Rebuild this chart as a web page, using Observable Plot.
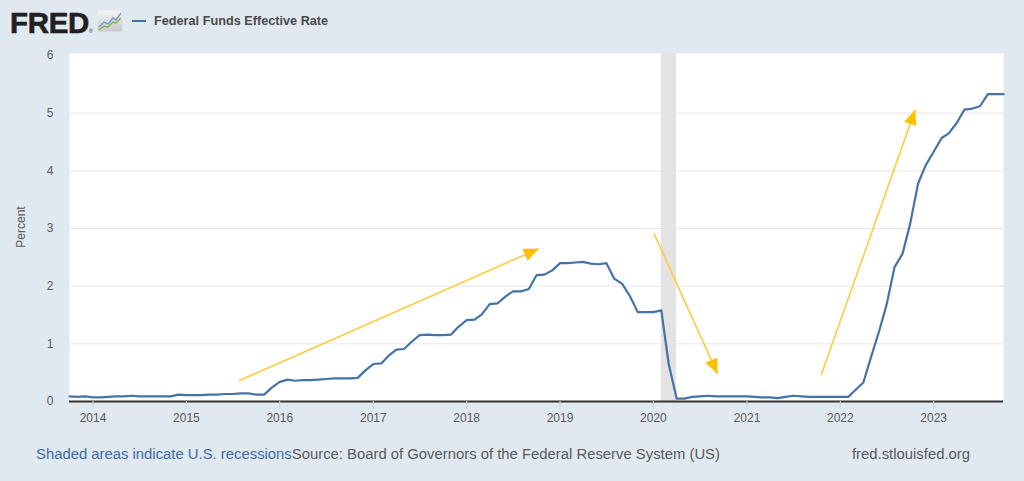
<!DOCTYPE html>
<html>
<head>
<meta charset="utf-8">
<script src="https://cdn.jsdelivr.net/npm/d3@7"></script>
<script src="https://cdn.jsdelivr.net/npm/@observablehq/plot@0.6"></script>
<style>
  html, body { margin: 0; padding: 0; background: #e1e9f0; }
  #page { position: relative; width: 1024px; height: 481px; background: #e1e9f0; overflow: hidden;
          font-family: "Liberation Sans", Arial, sans-serif; }
  .abs { position: absolute; white-space: nowrap; }
  #logo { left: 10px; top: 8px; height: 29px; line-height: 29px; font-size: 29.5px; font-weight: bold;
          color: #231f20; letter-spacing: -0.3px; -webkit-text-stroke: 0.6px #231f20; }
  #logo sup { font-size: 5px; font-weight: normal; vertical-align: baseline; letter-spacing: 0; -webkit-text-stroke: 0; }
  #icon { left: 97px; top: 10px; }
  #legline { left: 132px; top: 20px; width: 14px; height: 2px; background: #4572A7; }
  #legtext { left: 154px; top: 11px; height: 20px; line-height: 20px; font-size: 12.7px; font-weight: bold; color: #4a4a4a; }
  #ylabel { left: 21px; top: 227px; font-size: 12px; color: #595959; transform: translate(-50%, -50%) rotate(-90deg); }
  #chart { position: absolute; left: 0; top: 40px; }
  #foot1 { left: 36px; top: 444px; height: 20px; line-height: 20px; font-size: 14.85px; }
  #foot1 .rec { color: #3d6aa8; }
  #foot1 .src { color: #595959; }
  #foot2 { left: 852px; top: 444px; height: 20px; line-height: 20px; font-size: 14.85px; color: #595959; }
</style>
</head>
<body>
<div id="page">
  <div id="logo" class="abs">FRED<sup>®</sup></div>
  <svg id="icon" class="abs" width="26" height="22" viewBox="0 0 26 22">
    <defs>
      <linearGradient id="ig" x1="0" y1="0" x2="0" y2="1">
        <stop offset="0" stop-color="#f4f4f4"/><stop offset="1" stop-color="#c9c9c9"/>
      </linearGradient>
    </defs>
    <rect x="0.5" y="0.5" width="25" height="21" rx="2" fill="url(#ig)"/>
    <polyline points="2,17 7,12 11,14 16,8 19,10 24,3" fill="none" stroke="#6d9bd1" stroke-width="1.4"/>
    <polyline points="2,20 7,16 11,17 16,12 19,13 24,8" fill="none" stroke="#7db24a" stroke-width="1.4"/>
  </svg>
  <div id="legline" class="abs"></div>
  <div id="legtext" class="abs">Federal Funds Effective Rate</div>
  <div id="ylabel" class="abs">Percent</div>
  <div id="foot1" class="abs"><span class="rec">Shaded areas indicate U.S. recessions</span><span class="src">Source: Board of Governors of the Federal Reserve System (US)</span></div>
  <div id="foot2" class="abs">fred.stlouisfed.org</div>
</div>
<script>
// ---- Data ----
const seriesStart = "2013-10-01";
const seriesEnd = "2023-11-01";
// Monthly Federal Funds Effective Rate (percent), Oct 2013 .. Oct 2023
const rateValues = [
  0.09, 0.08, 0.09,
  0.07, 0.07, 0.08, 0.09, 0.09, 0.10, 0.09, 0.09, 0.09, 0.09, 0.09, 0.12,
  0.11, 0.11, 0.11, 0.12, 0.12, 0.13, 0.13, 0.14, 0.14, 0.12, 0.12, 0.24,
  0.34, 0.38, 0.36, 0.37, 0.37, 0.38, 0.39, 0.40, 0.40, 0.40, 0.41, 0.54,
  0.65, 0.66, 0.79, 0.90, 0.91, 1.04, 1.15, 1.16, 1.15, 1.15, 1.16, 1.30,
  1.41, 1.42, 1.51, 1.69, 1.70, 1.82, 1.91, 1.91, 1.95, 2.19, 2.20, 2.27,
  2.40, 2.40, 2.41, 2.42, 2.39, 2.38, 2.40, 2.13, 2.04, 1.83, 1.55, 1.55,
  1.55, 1.58, 0.65, 0.05, 0.05, 0.08, 0.09, 0.10, 0.09, 0.09, 0.09, 0.09,
  0.09, 0.08, 0.07, 0.07, 0.06, 0.08, 0.10, 0.09, 0.08, 0.08, 0.08, 0.08,
  0.08, 0.08, 0.20, 0.33, 0.77, 1.21, 1.68, 2.33, 2.56, 3.08, 3.78, 4.10,
  4.33, 4.57, 4.65, 4.83, 5.06, 5.08, 5.12, 5.33, 5.33, 5.33
];
const recessionStarts = ["2020-02-01"];
const recessionEnds = ["2020-04-01"];
const xTickLabels = ["2014", "2015", "2016", "2017", "2018", "2019", "2020", "2021", "2022", "2023"];
const yTickValues = [0, 1, 2, 3, 4, 5, 6];
const xDomain = ["2013-10-01", "2023-10-01"];
// Annotation arrows (date, percent)
const arrowStartDates = ["2015-07-25", "2020-01-03", "2021-10-18"];
const arrowStartValues = [0.36, 2.92, 0.46];
const arrowEndDates = ["2018-10-10", "2020-09-08", "2022-10-21"];
const arrowEndValues = [2.65, 0.48, 5.06];

// ---- Build tables ----
const months = d3.utcMonth.range(new Date(seriesStart), new Date(seriesEnd));
const rows = rateValues.map((v, i) => ({date: months[i], value: v}));
const recessions = recessionStarts.map((s, i) => ({start: new Date(s), end: new Date(recessionEnds[i])}));
const xTicks = xTickLabels.map(y => new Date(`${y}-01-01`));
const arrows = arrowStartDates.map((d, i) => ({
  x1: new Date(d), y1: arrowStartValues[i], x2: new Date(arrowEndDates[i]), y2: arrowEndValues[i]
}));

function triangleMarker(color, context) {
  const doc = (context && context.document) || document;
  const ns = "http://www.w3.org/2000/svg";
  const m = doc.createElementNS(ns, "marker");
  m.setAttribute("viewBox", "-17 -8 18 16");
  m.setAttribute("markerWidth", "18");
  m.setAttribute("markerHeight", "16");
  m.setAttribute("markerUnits", "userSpaceOnUse");
  m.setAttribute("refX", "0");
  m.setAttribute("refY", "0");
  m.setAttribute("orient", "auto");
  const p = doc.createElementNS(ns, "path");
  p.setAttribute("d", "M0,0L-15,-6.5L-15,6.5Z");
  p.setAttribute("fill", "#FFC000");
  p.setAttribute("stroke", "none");
  m.appendChild(p);
  return m;
}

const chart = Plot.plot({
  width: 1024,
  height: 395,
  marginLeft: 69,
  marginRight: 21,
  marginTop: 15,
  marginBottom: 34,
  x: {type: "utc", domain: xDomain.map(d => new Date(d))},
  y: {domain: [0, 6]},
  style: {background: "transparent", fontFamily: "'Liberation Sans', Arial, sans-serif", fontSize: "12px", color: "#595959", overflow: "visible"},
  marks: [
    Plot.frame({fill: "white", stroke: null, insetTop: -2}),
    Plot.ruleY(yTickValues.filter(d => d > 0 && d < 6), {stroke: "#e8e8e8", strokeWidth: 1}),
    Plot.rect(recessions, {x1: "start", x2: "end", fill: "#e3e3e3", insetTop: -2}),
    Plot.lineY(rows, {x: "date", y: "value", stroke: "#4572A7", strokeWidth: 2.2}),
    Plot.link(arrows, {x1: "x1", y1: "y1", x2: "x2", y2: "y2", stroke: "#FFCB3D", strokeWidth: 1.6, markerEnd: triangleMarker}),
    Plot.ruleY([0], {stroke: "#333333", strokeWidth: 2.2}),
    Plot.axisX({ticks: xTicks, tickFormat: "%Y", tickSize: 8, tickPadding: 4, stroke: "#c5d4e4", fill: "#595959", label: null}),
    Plot.axisY({ticks: yTickValues, tickFormat: d => String(d), tickSize: 0, tickPadding: 16, fill: "#595959", label: null})
  ]
});
chart.id = "chart";
document.getElementById("page").appendChild(chart);
</script>
</body>
</html>
